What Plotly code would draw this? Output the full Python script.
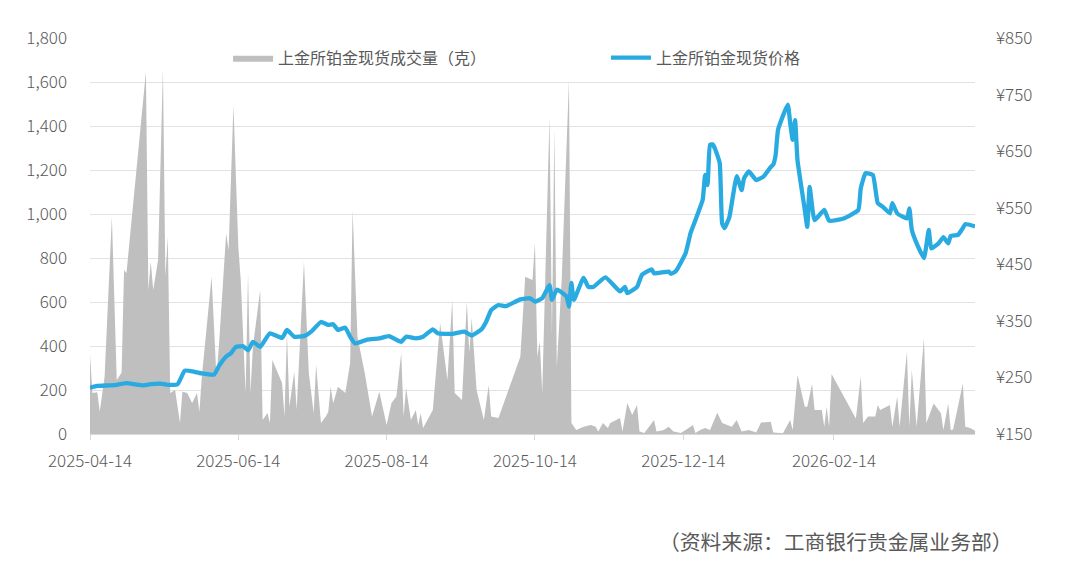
import plotly.graph_objects as go

# ---------------- data ----------------
vol_dates = [
    "2025-04-14", "2025-04-15", "2025-04-17", "2025-04-18", "2025-04-20", "2025-04-23", "2025-04-25",
    "2025-04-27", "2025-04-28", "2025-04-29", "2025-05-07", "2025-05-08", "2025-05-09", "2025-05-10",
    "2025-05-12", "2025-05-14", "2025-05-15", "2025-05-16", "2025-05-17", "2025-05-19", "2025-05-21",
    "2025-05-22", "2025-05-24", "2025-05-26", "2025-05-28", "2025-05-29", "2025-05-30", "2025-06-03",
    "2025-06-05", "2025-06-06", "2025-06-09", "2025-06-10", "2025-06-12", "2025-06-14", "2025-06-15",
    "2025-06-16", "2025-06-17", "2025-06-18", "2025-06-19", "2025-06-20", "2025-06-23", "2025-06-24",
    "2025-06-25", "2025-06-26", "2025-06-27", "2025-06-28", "2025-07-02", "2025-07-03", "2025-07-04",
    "2025-07-05", "2025-07-07", "2025-07-08", "2025-07-11", "2025-07-13", "2025-07-15", "2025-07-16",
    "2025-07-18", "2025-07-20", "2025-07-21", "2025-07-22", "2025-07-23", "2025-07-25", "2025-07-28",
    "2025-07-30", "2025-07-31", "2025-08-02", "2025-08-05", "2025-08-08", "2025-08-11", "2025-08-14",
    "2025-08-16", "2025-08-18", "2025-08-20", "2025-08-21", "2025-08-22", "2025-08-24", "2025-08-26",
    "2025-08-27", "2025-08-28", "2025-08-29", "2025-09-02", "2025-09-05", "2025-09-08", "2025-09-10",
    "2025-09-11", "2025-09-14", "2025-09-16", "2025-09-17", "2025-09-18", "2025-09-20", "2025-09-22",
    "2025-09-23", "2025-09-25", "2025-09-26", "2025-09-29", "2025-10-08", "2025-10-10", "2025-10-13",
    "2025-10-14", "2025-10-15", "2025-10-16", "2025-10-17", "2025-10-20", "2025-10-21", "2025-10-22",
    "2025-10-23", "2025-10-25", "2025-10-28", "2025-10-29", "2025-10-31", "2025-11-03", "2025-11-06",
    "2025-11-08", "2025-11-09", "2025-11-11", "2025-11-13", "2025-11-14", "2025-11-18", "2025-11-19",
    "2025-11-21", "2025-11-23", "2025-11-25", "2025-11-26", "2025-11-28", "2025-12-02", "2025-12-03",
    "2025-12-06", "2025-12-08", "2025-12-10", "2025-12-13", "2025-12-15", "2025-12-18", "2025-12-19",
    "2025-12-21", "2025-12-23", "2025-12-25", "2025-12-28", "2025-12-30", "2026-01-03", "2026-01-05",
    "2026-01-07", "2026-01-10", "2026-01-13", "2026-01-15", "2026-01-19", "2026-01-20", "2026-01-24",
    "2026-01-27", "2026-01-28", "2026-01-30", "2026-02-02", "2026-02-03", "2026-02-05", "2026-02-06",
    "2026-02-09", "2026-02-10", "2026-02-11", "2026-02-12", "2026-02-13", "2026-02-23", "2026-02-25",
    "2026-02-26", "2026-02-28", "2026-03-03", "2026-03-04", "2026-03-05", "2026-03-09", "2026-03-10",
    "2026-03-12", "2026-03-13", "2026-03-16", "2026-03-17", "2026-03-18", "2026-03-20", "2026-03-23",
    "2026-03-24", "2026-03-27", "2026-03-30", "2026-03-31", "2026-04-02", "2026-04-03", "2026-04-04",
    "2026-04-08", "2026-04-09", "2026-04-11", "2026-04-13",
]
vol_values = [
    360, 186, 190, 101, 260, 988, 245,
    280, 745, 731, 1647, 654, 783, 654,
    791, 1662, 715, 897, 186, 200, 50,
    192, 186, 141, 186, 101, 260, 715,
    260, 397, 913, 836, 1495, 851, 700,
    413, 186, 731, 186, 397, 654, 64,
    79, 95, 50, 336, 232, 79, 460,
    124, 283, 110, 783, 277, 95, 314,
    50, 79, 101, 215, 140, 215, 186,
    323, 1018, 442, 277, 79, 192, 41,
    141, 170, 368, 79, 209, 64, 109,
    41, 95, 27, 109, 504, 245, 609,
    186, 155, 601, 368, 527, 200, 109,
    64, 223, 79, 73, 351, 715, 700,
    870, 351, 420, 186, 1442, 450, 1390,
    306, 700, 1609, 50, 18, 33, 41,
    33, 11, 50, 27, 50, 73, 11,
    141, 86, 132, 11, 5, 64, 11,
    18, 33, 11, 5, 18, 41, 5,
    18, 27, 18, 97, 50, 33, 64,
    11, 18, 7, 52, 56, 7, 3,
    64, 18, 268, 124, 124, 227, 109,
    109, 33, 124, 33, 273, 71, 260,
    50, 79, 79, 132, 109, 132, 33,
    170, 33, 374, 33, 291, 33, 435,
    50, 139, 94, 18, 139, 18, 20,
    230, 33, 27, 15,
]

price_dates = [
    "2025-04-14", "2025-04-17", "2025-04-22", "2025-04-25", "2025-04-29", "2025-05-06", "2025-05-09",
    "2025-05-13", "2025-05-16", "2025-05-20", "2025-05-23", "2025-05-27", "2025-05-30", "2025-06-04",
    "2025-06-06", "2025-06-09", "2025-06-11", "2025-06-13", "2025-06-16", "2025-06-18", "2025-06-20",
    "2025-06-23", "2025-06-27", "2025-07-02", "2025-07-04", "2025-07-07", "2025-07-11", "2025-07-14",
    "2025-07-18", "2025-07-21", "2025-07-23", "2025-07-25", "2025-07-28", "2025-07-30", "2025-08-01",
    "2025-08-06", "2025-08-11", "2025-08-15", "2025-08-20", "2025-08-22", "2025-08-26", "2025-08-29",
    "2025-09-02", "2025-09-04", "2025-09-10", "2025-09-15", "2025-09-18", "2025-09-22", "2025-09-24",
    "2025-09-26", "2025-09-29", "2025-10-02", "2025-10-08", "2025-10-12", "2025-10-14", "2025-10-17",
    "2025-10-20", "2025-10-21", "2025-10-23", "2025-10-27", "2025-10-28", "2025-10-29", "2025-10-30",
    "2025-11-03", "2025-11-05", "2025-11-07", "2025-11-12", "2025-11-18", "2025-11-20", "2025-11-21",
    "2025-11-25", "2025-11-27", "2025-12-01", "2025-12-02", "2025-12-08", "2025-12-09", "2025-12-11",
    "2025-12-15", "2025-12-17", "2025-12-19", "2025-12-22", "2025-12-23", "2025-12-24", "2025-12-25",
    "2025-12-26", "2025-12-27", "2025-12-29", "2025-12-30", "2025-12-31", "2026-01-02", "2026-01-05",
    "2026-01-07", "2026-01-08", "2026-01-10", "2026-01-13", "2026-01-16", "2026-01-19", "2026-01-20",
    "2026-01-21", "2026-01-22", "2026-01-26", "2026-01-27", "2026-01-28", "2026-01-29", "2026-01-30",
    "2026-02-02", "2026-02-03", "2026-02-04", "2026-02-06", "2026-02-10", "2026-02-12", "2026-02-18",
    "2026-02-24", "2026-02-25", "2026-02-27", "2026-03-02", "2026-03-04", "2026-03-06", "2026-03-09",
    "2026-03-10", "2026-03-12", "2026-03-16", "2026-03-17", "2026-03-18", "2026-03-20", "2026-03-23",
    "2026-03-25", "2026-03-26", "2026-03-29", "2026-03-31", "2026-04-02", "2026-04-03", "2026-04-06",
    "2026-04-08", "2026-04-09", "2026-04-13",
]
price_values = [
    232, 235, 236, 237, 240, 236, 238,
    239, 237, 238, 262, 260, 257, 255,
    270, 287, 293, 304, 305, 298, 313,
    304, 328, 320, 334, 322, 323, 331,
    348, 343, 344, 334, 338, 322, 310,
    317, 319, 323, 313, 322, 319, 322,
    335, 328, 327, 331, 324, 335, 349,
    369, 378, 376, 388, 390, 384, 390,
    413, 387, 405, 393, 375, 417, 387,
    426, 410, 410, 427, 402, 410, 399,
    410, 431, 441, 434, 437, 433, 438,
    470, 505, 528, 564, 608, 590, 661,
    662, 655, 629, 522, 514, 534, 606,
    581, 602, 614, 599, 605, 622, 626,
    643, 688, 732, 699, 670, 705, 634,
    546, 516, 587, 528, 546, 527, 531,
    546, 584, 611, 608, 558, 552, 540,
    558, 540, 531, 549, 511, 487, 461,
    511, 478, 487, 498, 487, 500, 502,
    514, 521, 517,
]

x_tick_dates = ["2025-04-14", "2025-06-14", "2025-08-14", "2025-10-14", "2025-12-14", "2026-02-14"]

vol_name = "上金所铂金现货成交量（克）"
price_name = "上金所铂金现货价格"
source_text = "（资料来源：工商银行贵金属业务部）"

# ---------------- style ----------------
FONT = "Noto Sans CJK SC"
TXT = "#595959"
GRID = "#e2e2e2"
GRAY_FILL = "#bfbfbf"
BLUE = "#29abe2"

fig = go.Figure()
fig.add_trace(go.Scatter(
    x=vol_dates, y=vol_values, name=vol_name, mode="lines",
    line=dict(width=0, color=GRAY_FILL), fill="tozeroy", fillcolor=GRAY_FILL,
    yaxis="y", legend="legend", hoverinfo="skip",
))
fig.add_trace(go.Scatter(
    x=price_dates, y=price_values, name=price_name, mode="lines",
    line=dict(width=4.3, color=BLUE, shape="spline", smoothing=0.4), yaxis="y2", legend="legend2",
))

# The page body has an 8px margin, so the figure is 8px smaller and margins shifted.
fig.update_layout(
    width=1072, height=558,
    margin=dict(l=82, r=105, t=30, b=132),
    paper_bgcolor="white", plot_bgcolor="white",
    font=dict(family=FONT, size=15, color=TXT),
    showlegend=True,
    legend=dict(orientation="h", x=0.156, y=0.95, xanchor="left", yanchor="middle",
                font=dict(family=FONT, size=16, color=TXT), bgcolor="rgba(0,0,0,0)", itemwidth=40),
    legend2=dict(orientation="h", x=0.583, y=0.95, xanchor="left", yanchor="middle",
                 font=dict(family=FONT, size=16, color=TXT), bgcolor="rgba(0,0,0,0)", itemwidth=40),
    xaxis=dict(
        type="date", range=["2025-04-14", "2026-04-13"],
        tickvals=x_tick_dates, ticktext=x_tick_dates,
        showgrid=False, showline=True, linecolor="#d9d9d9", linewidth=1,
        ticks="outside", ticklen=5, tickcolor="#d9d9d9",
        tickfont=dict(family=FONT, size=17, color=TXT, weight=300), ticklabelstandoff=7,
        zeroline=False,
    ),
    yaxis=dict(
        range=[0, 1800], dtick=200, tickformat=",", showgrid=True, gridcolor=GRID, gridwidth=1,
        zeroline=False, showline=False, ticks="",
        tickfont=dict(family=FONT, size=17, color=TXT, weight=300), ticklabelstandoff=22,
    ),
    yaxis2=dict(
        range=[150, 850], tick0=150, dtick=100, tickprefix="¥", overlaying="y", side="right",
        showgrid=False, zeroline=False, showline=False, ticks="",
        tickfont=dict(family=FONT, size=17, color=TXT, weight=300), ticklabelstandoff=20,
    ),
    annotations=[dict(
        text=source_text, xref="paper", yref="paper", x=1.045, y=-0.27,
        xanchor="right", yanchor="middle", showarrow=False,
        font=dict(family=FONT, size=20.8, color=TXT),
    )],
)

fig.write_html("out.html")
